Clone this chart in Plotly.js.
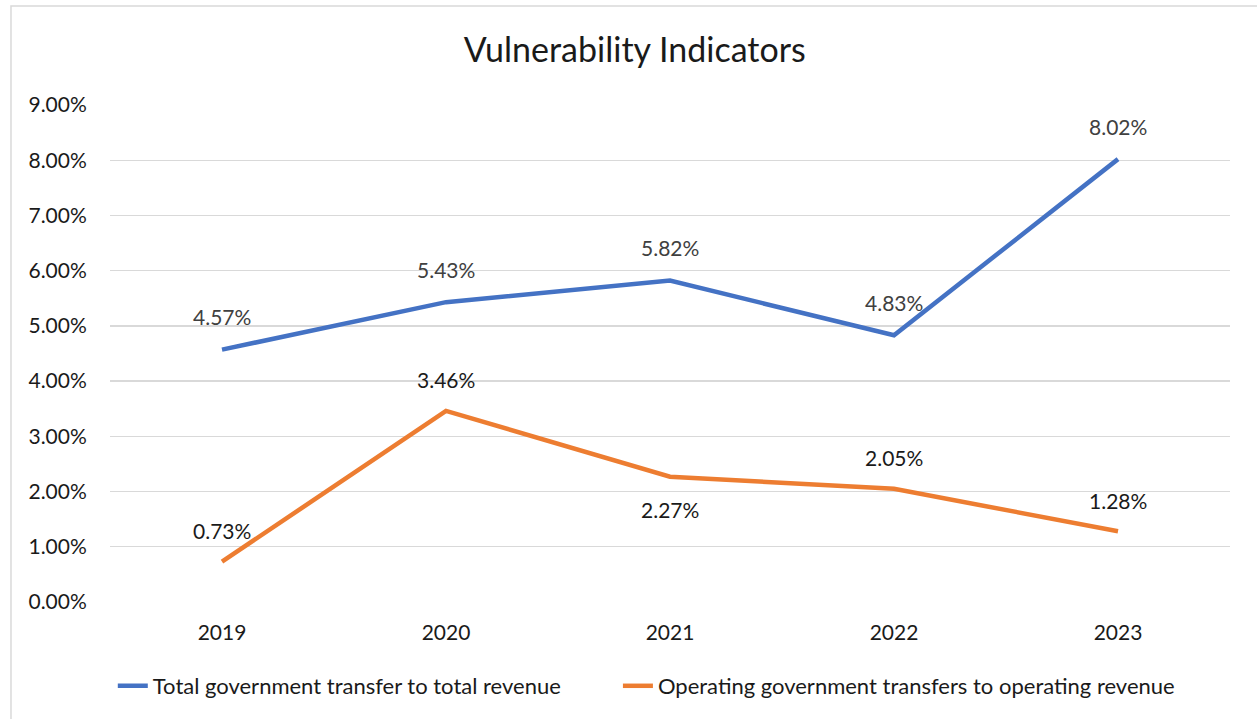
<!DOCTYPE html>
<html>
<head>
<meta charset="utf-8">
<script src="https://cdn.plot.ly/plotly-3.0.1.min.js"></script>
<style>
html,body{margin:0;padding:0;background:#fff;}
#chart{width:1257px;height:719px;}
</style>
</head>
<body>
<div id="chart"></div>
<script>
const years = ['2019', '2020', '2021', '2022', '2023'];
const totalTransfer = [0.0457, 0.0543, 0.0582, 0.0483, 0.0802];
const operatingTransfer = [0.0073, 0.0346, 0.0227, 0.0205, 0.0128];
const seriesNames = ['Total government transfer to total revenue', 'Operating government transfers to operating revenue'];
const totalLabelSide = ['above', 'above', 'above', 'above', 'above'];
const operatingLabelSide = ['above', 'above', 'below', 'above', 'above'];
const yTicks = [0, 0.01, 0.02, 0.03, 0.04, 0.05, 0.06, 0.07, 0.08, 0.09];

const fontFam = 'Lato, "Open Sans", "Liberation Sans", sans-serif';

const traces = [
  {x: years, y: totalTransfer, name: seriesNames[0], type: 'scatter', mode: 'lines',
   line: {color: '#4472C4', width: 4.5}, hoverinfo: 'skip', legend: 'legend'},
  {x: years, y: operatingTransfer, name: seriesNames[1], type: 'scatter', mode: 'lines',
   line: {color: '#ED7D31', width: 4.5}, hoverinfo: 'skip', legend: 'legend2'}
];

function fmt(v){ return (v*100).toFixed(2) + '%'; }
const annotations = [];
years.forEach((yr, i) => {
  annotations.push({x: i, y: totalTransfer[i], xref: 'x', yref: 'y', text: fmt(totalTransfer[i]),
    showarrow: false, yshift: totalLabelSide[i] === 'above' ? 33 : -33,
    font: {family: fontFam, size: 21, color: '#404040'}});
  annotations.push({x: i, y: operatingTransfer[i], xref: 'x', yref: 'y', text: fmt(operatingTransfer[i]),
    showarrow: false, yshift: operatingLabelSide[i] === 'above' ? 31 : -33,
    font: {family: fontFam, size: 21, color: '#1a1a1a'}});
});

const legendFont = {family: fontFam, size: 22, color: '#1a1a1a'};
const layout = {
  width: 1257, height: 719,
  margin: {l: 110, r: 27, t: 105, b: 117},
  paper_bgcolor: '#fff', plot_bgcolor: '#fff',
  title: {text: 'Vulnerability Indicators', x: 0.505, xref: 'container', y: 0.93, yref: 'container',
    xanchor: 'center', yanchor: 'middle', font: {family: fontFam, size: 34, color: '#1a1a1a'}},
  xaxis: {type: 'category', range: [-0.5, 4.5], showgrid: false, zeroline: false, showline: false,
    ticks: 'outside', ticklen: 12, tickcolor: 'rgba(0,0,0,0)',
    tickfont: {family: fontFam, size: 21, color: '#1a1a1a'}, fixedrange: true},
  yaxis: {range: [0, 0.09], tickvals: yTicks, tickformat: '.2%', showgrid: true, gridcolor: '#d9d9d9', gridwidth: 1.3,
    zeroline: false, showline: false, ticks: 'outside', ticklen: 18, tickcolor: 'rgba(0,0,0,0)',
    tickfont: {family: fontFam, size: 21, color: '#1a1a1a'}, fixedrange: true},
  showlegend: true,
  legend: {orientation: 'h', x: 0.0025, xanchor: 'left', y: -0.169, yanchor: 'middle', font: legendFont},
  legend2: {orientation: 'h', x: 0.4535, xanchor: 'left', y: -0.169, yanchor: 'middle', font: legendFont},
  annotations: annotations,
  shapes: [{type: 'rect', xref: 'paper', yref: 'paper', x0: -0.0884, x1: 1.05, y0: -0.3, y1: 1.199,
    line: {color: '#d9d9d9', width: 1.5}, fillcolor: 'rgba(0,0,0,0)', layer: 'below'}]
};

Plotly.newPlot('chart', traces, layout, {staticPlot: true, displayModeBar: false});
</script>
</body>
</html>
